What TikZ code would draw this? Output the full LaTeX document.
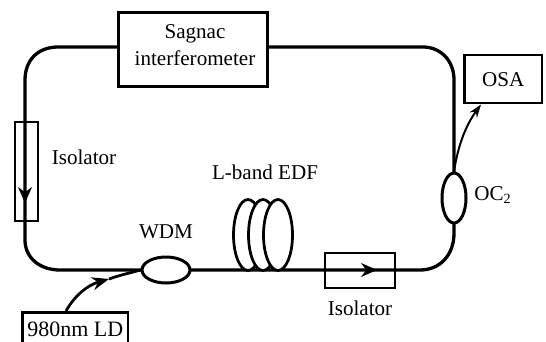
\documentclass[tikz,border=0pt]{standalone}
\usepackage{fontspec}
\setmainfont{Liberation Serif}
\usetikzlibrary{arrows.meta, shapes.geometric}
\begin{document}
\begin{tikzpicture}[
    x=0.02cm, y=-0.02cm,
    every node/.style={font=\fontsize{12}{14}\selectfont},
    fiber/.style ={line width=0.066cm, line cap=round},
    comp/.style  ={rectangle, draw=black, line width=0.05cm, inner sep=0pt, align=center, anchor=north west},
    iso/.style   ={rectangle, draw=black, line width=0.04cm, inner sep=0pt, anchor=north west},
    coupler/.style={ellipse, draw=black, fill=white, line width=0.06cm, inner sep=0pt},
    ring/.style  ={ellipse, draw=black, fill=white, line width=0.055cm, minimum width=0.58cm, minimum height=1.42cm, inner sep=0pt},
    pump/.style  ={-{Stealth[length=0.34cm, width=0.26cm]}, line width=0.055cm},
    tip/.style   ={-{Stealth[length=0.32cm, width=0.28cm]}, line width=0.04cm}
]
\useasboundingbox (0,0) rectangle (546,341);
\node[comp, line width=0.06cm, minimum width=2.98cm, minimum height=1.48cm] (sagnac) at (117,11) {};
\node[align=center] (sagnaclabel) at (195,45) {Sagnac\\[1pt]interferometer};
\node[comp, minimum width=1.56cm, minimum height=0.96cm] (osa) at (463,54) {OSA};
\node[comp, minimum width=2.12cm, minimum height=0.68cm, font=\fontsize{12.5}{14}\selectfont] (ld) at (21,311) {980nm LD};
\node[iso, minimum width=0.46cm, minimum height=1.98cm] (isoleft) at (14,121) {};
\node[iso, minimum width=1.40cm, minimum height=0.70cm] (isoright) at (324,252) {};
\coordinate (wdmpos) at (166,270);
\coordinate (ocpos) at (454,198);
% fibre loop
\draw[fiber] (sagnac.west |- 0,47) -- (58,47) .. controls (38,47) and (25,60) .. (25,80) -- (25,240)
    .. controls (25,258) and (40,270) .. (60,270) -- (wdmpos);
\draw[fiber] (wdmpos) -- (420,270) .. controls (440,270) and (454,255) .. (454,233) -- (ocpos);
\draw[fiber] (ocpos) -- (454,80) .. controls (454,60) and (440,47) .. (423,47) -- (sagnac.east |- 0,47);
\foreach \ringx in {248,263,278}
  \node[ring] (ring\ringx) at (\ringx,235) {};
\node[coupler, minimum width=0.96cm, minimum height=0.52cm] (wdm) at (wdmpos) {};
\node[coupler, minimum width=0.48cm, minimum height=1.0cm] (oc) at (ocpos) {};
\draw[tip] (25,180) -- (25,203);
\draw[tip] (355,270) -- (377,270);
\draw[pump] (ld.north -| 66,0) .. controls (75,295) and (88,285) .. (109,279);
\draw[line width=0.055cm] (109,279) .. controls (120,275) and (130,273) .. (wdm.west);
\draw[-{Stealth[length=0.26cm, width=0.18cm]}, line width=0.04cm] (oc.north) .. controls (458,145) and (466,125) .. (osa.south -| 481,0);
\node (isolabela) at (84,157) {Isolator};
\node (isolabelb) at (360,308) {Isolator};
\node (edflabel) at (265,172) {L-band EDF};
\node (wdmlabel) at (166,232) {WDM};
\node (oclabel) at (493,195) {OC\textsubscript{2}};
\end{tikzpicture}
\end{document}
